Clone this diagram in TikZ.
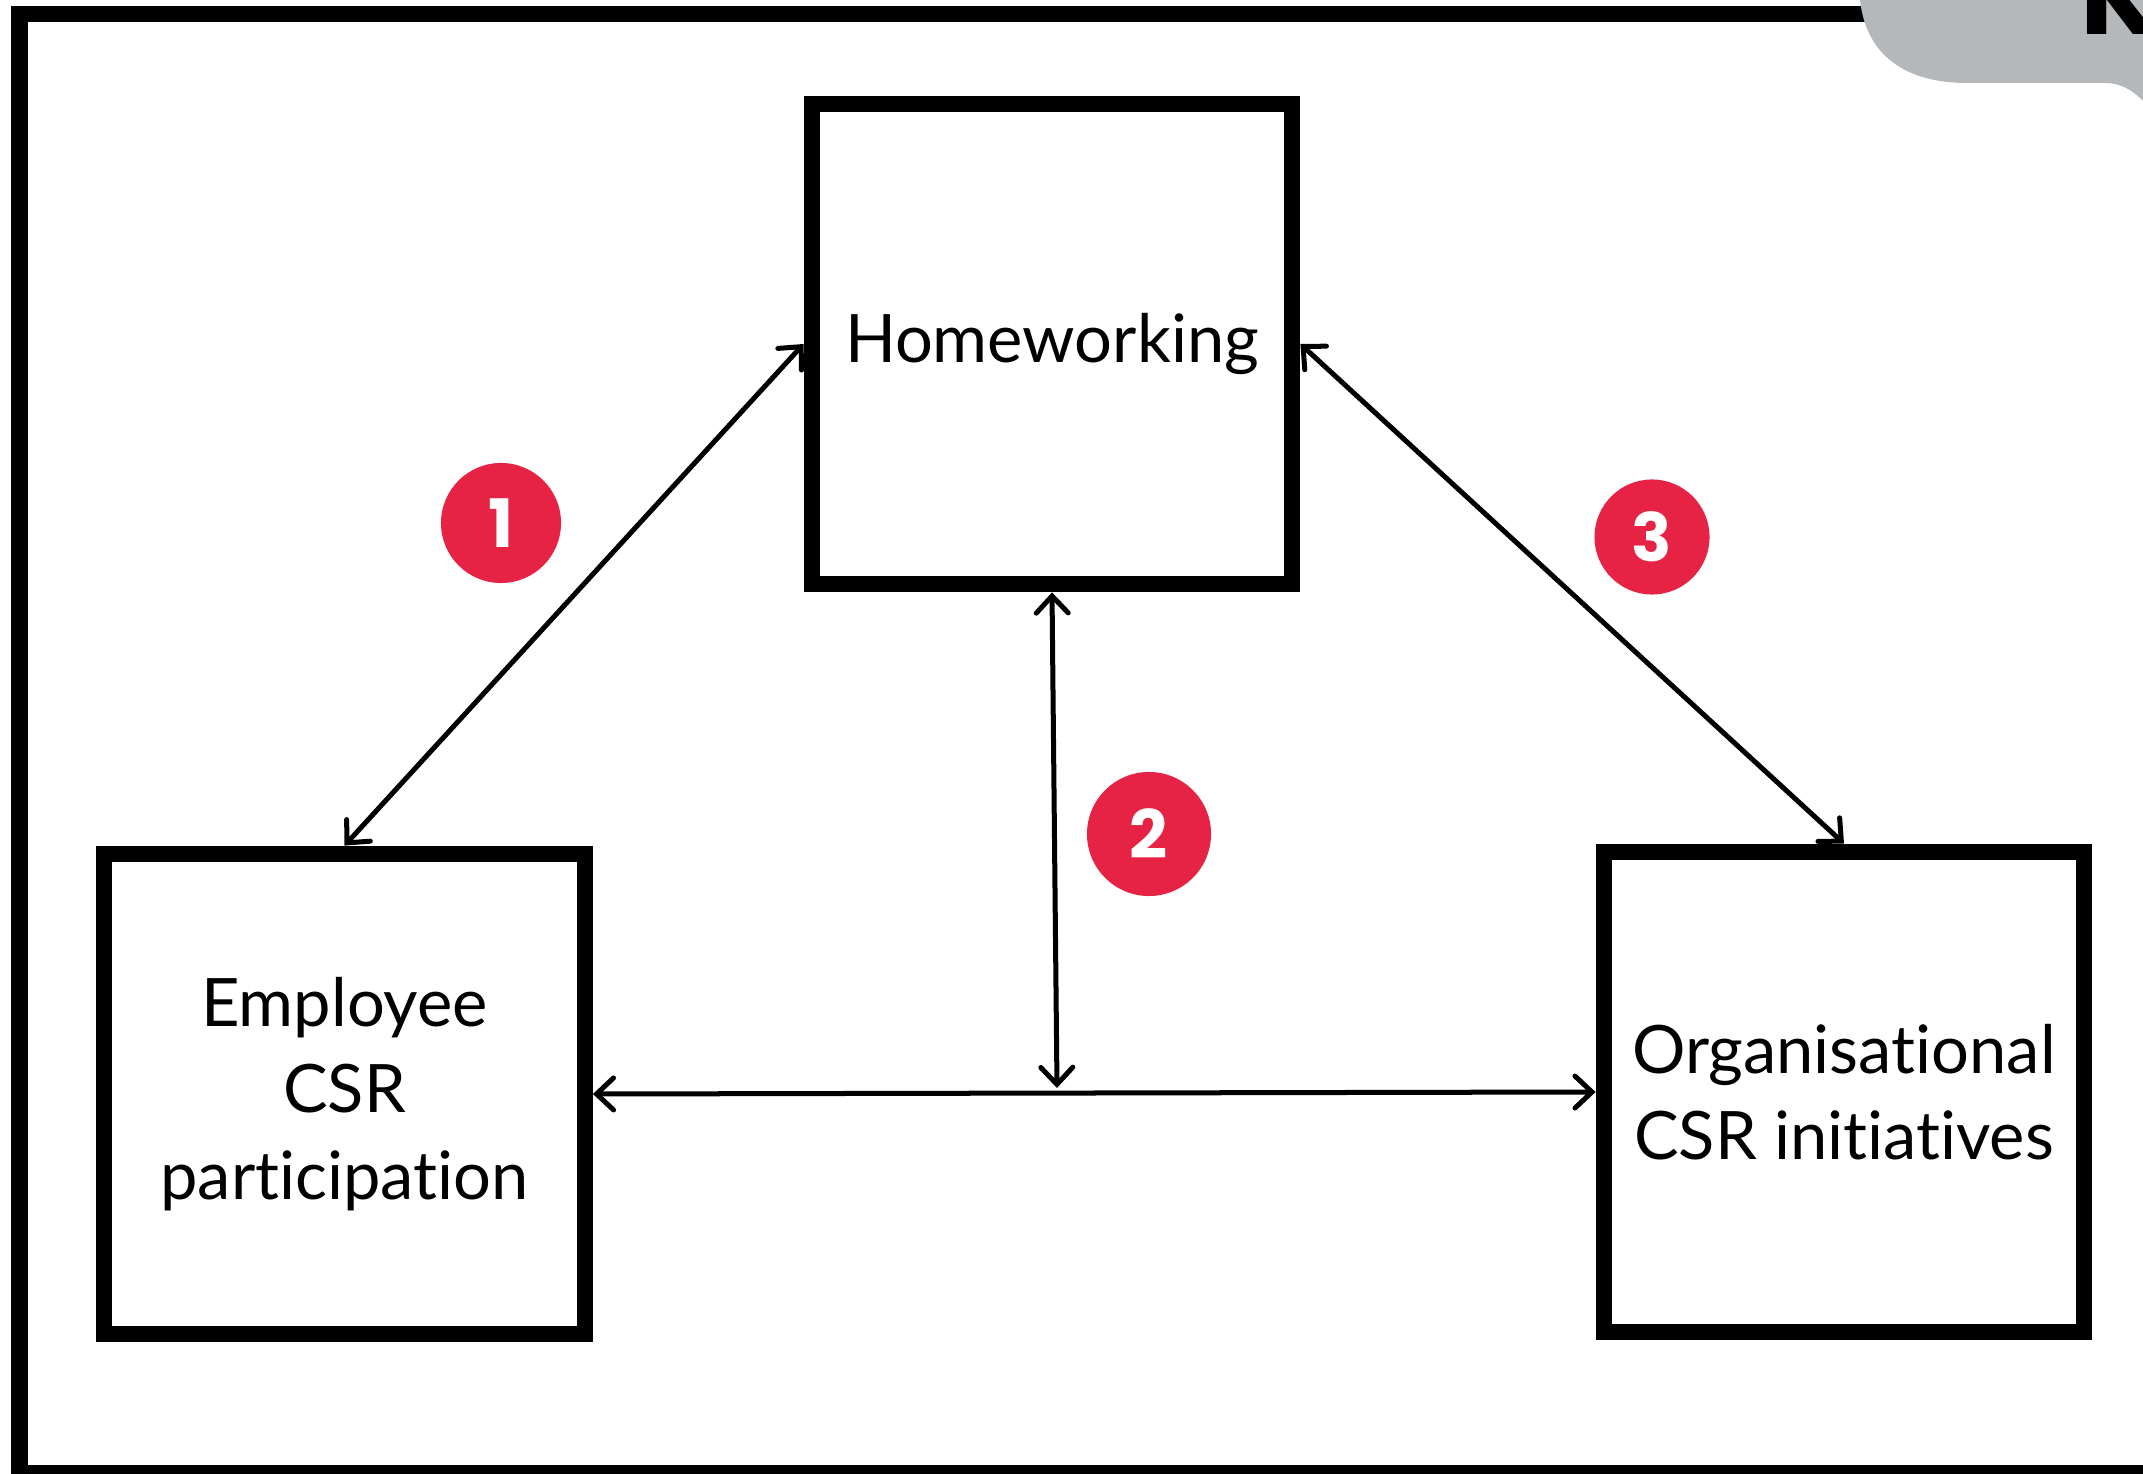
\documentclass[tikz,border=0pt]{standalone}
\usepackage{fontspec}
\setmainfont{Lato}[Ligatures=NoCommon]
\newfontfamily\badgefont{Poppins}
\usetikzlibrary{arrows.meta}
\definecolor{badgered}{HTML}{E62344}
\definecolor{tabgrey}{HTML}{B5B8BB}
\tikzset{
  factor/.style={draw, line width=0.16cm, minimum width=4.805cm, minimum height=4.805cm,
    inner sep=0pt, align=center, font=\fontsize{19}{24.5}\selectfont},
  link/.style={line width=0.05cm,
    {Straight Barb[length=0.17cm,width=0.32cm,line cap=round]}-{Straight Barb[length=0.17cm,width=0.32cm,line cap=round]}},
  badge/.style={circle, fill=badgered, text=white, inner sep=0pt,
    font=\badgefont\bfseries\fontsize{19}{19}\selectfont},
}
\begin{document}
\begin{tikzpicture}[x=0.01cm, y=-0.01cm]
\useasboundingbox (0,0) rectangle (2143,1474);
\clip (0,0) rectangle (2143,1474);
\draw [line width=0.16cm] (2300,14) -- (19.5,14) -- (19.5,1473) -- (2300,1473);
\fill [tabgrey] (1858,-20) -- (1860,0) .. controls (1866,55) and (1905,83) .. (1967,83)
  -- (2105,83) .. controls (2125,83) and (2140,95) .. (2155,115) -- (2155,-20) -- cycle;
\node (logo) [anchor=base west, inner sep=0pt, font=\badgefont\bfseries\fontsize{32}{32}\selectfont] at (2080,35) {K};

\node (hw)  [factor] at (1052,344) {Homeworking};
\node (emp) [factor] at (344.5,1094) {Employee\\CSR\\participation};
\node (org) [factor] at (1844,1092) {Organisational\\CSR initiatives};
\coordinate (axis) at (1057,1088);

\draw [link] (hw.west) -- (emp.north);
\draw [link] (hw.east) -- (org.north);
\draw [link] (hw.south) -- (axis);
\draw [link] (emp.east) -- (org.west);

\node (b1) [badge, minimum size=1.2cm]  at (501,523)  {1};
\node (b2) [badge, minimum size=1.24cm] at (1149,834) {2};
\node (b3) [badge, minimum size=1.15cm] at (1652,537) {3};
\end{tikzpicture}
\end{document}
